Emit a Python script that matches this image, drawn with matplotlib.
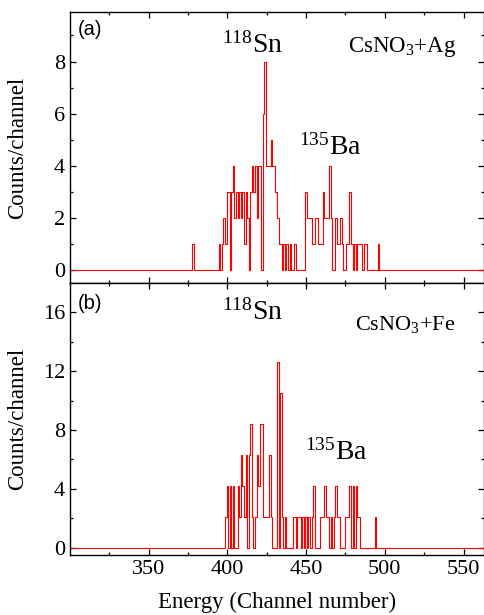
import matplotlib
matplotlib.use("Agg")
import matplotlib.pyplot as plt
import numpy as np

plt.rcParams['font.family'] = ['Liberation Serif', 'DejaVu Serif']
plt.rcParams['mathtext.fontset'] = 'custom'
plt.rcParams['mathtext.rm'] = 'Liberation Serif'
plt.rcParams['mathtext.it'] = 'Liberation Serif:italic'

# ---------------- data ----------------
# panel (a): CsNO3+Ag, counts per channel starting at channel 376
top_start = 376
top_counts = [0, 0, 1, 0, 0, 0, 0, 0, 0, 0, 0, 0, 0, 0, 0, 0, 0, 0,   # 376-393
              0, 1, 0, 1, 2, 1, 3, 3, 0, 3,                           # 394-403
              4, 2, 3, 2, 3, 2, 3, 1, 3, 2,                           # 404-413
              0, 3, 4, 3, 4, 2, 4, 4, 0, 6,                           # 414-423
              8, 4, 4, 4, 5, 4, 4, 3, 2, 1,                           # 424-433
              1, 0, 1, 0, 1, 0, 1, 0, 0, 1,                           # 434-443
              0, 0, 0, 0, 0, 0, 3, 2, 2, 2,                           # 444-453
              1, 1, 2, 2, 1, 1, 1, 3, 2, 2,                           # 454-463
              2, 4, 2, 0, 0, 2, 1, 1, 2, 1,                           # 464-473
              0, 0, 1, 1, 3, 1, 0, 1, 0, 1,                           # 474-483
              1, 1, 0, 1, 1, 0, 0, 0, 0, 0,                           # 484-493
              0, 0, 1, 0, 0]                                          # 494-498

# panel (b): CsNO3+Fe, normalised counts per channel starting at channel 396
bot_start = 396
bot_counts = [0, 0, 0, 2.11, 4.22, 0, 4.22, 0, 4.22, 0,               # 396-405
              0, 4.22, 2.11, 6.33, 4.22, 2.11, 6.33, 0, 6.33, 8.44,   # 406-415
              2.11, 0, 2.11, 6.33, 4.22, 8.44, 8.44, 2.11, 2.11, 2.11, # 416-425
              2.11, 6.33, 2.11, 0, 0, 0, 12.66, 0, 10.55, 2.11,       # 426-435
              0, 2.11, 0, 0, 0, 0, 2.11, 2.11, 0, 2.11,               # 436-445
              2.11, 0, 2.11, 0, 2.11, 0, 2.11, 0, 2.11, 4.22,         # 446-455
              0, 0, 0, 2.11, 2.11, 2.11, 4.22, 2.11, 2.11, 0,         # 456-465
              2.11, 0, 2.11, 4.22, 2.11, 2.11, 0, 0, 0, 2.11,         # 466-475
              2.11, 2.11, 4.22, 0, 4.22, 0, 4.22, 2.11, 2.11, 0,      # 476-485
              0, 0, 0, 0, 0, 0, 0, 0, 2.11, 0, 0]                     # 486-496

x_min, x_max = 300, 563
x_ticks = [350, 400, 450, 500, 550]
top_yticks = [0, 2, 4, 6, 8]
bot_yticks = [0, 4, 8, 12, 16]


def full_series(start, counts):
    ch = np.arange(x_min, x_max + 1)
    y = np.zeros_like(ch, dtype=float)
    idx = np.arange(len(counts)) + (start - x_min)
    y[idx] = counts
    return ch, y


fig = plt.figure(figsize=(4.84, 6.15), dpi=100)
L, R = 70 / 484, 1.0
ax1 = fig.add_axes([L, 1 - 283 / 615, R - L, (283 - 12) / 615])
ax2 = fig.add_axes([L, 1 - 555 / 615, R - L, (555 - 283) / 615], sharex=ax1)

for ax, (start, counts) in ((ax1, (top_start, top_counts)), (ax2, (bot_start, bot_counts))):
    ch, y = full_series(start, counts)
    ax.step(ch, y, where='mid', color='#ff0000', lw=0.8)
    ax.set_xlim(x_min, x_max)
    ax.set_xticks(x_ticks)
    ax.set_xticks(np.arange(325, 563, 50), minor=True)
    ax.tick_params(which='both', direction='in', top=True, right=True, width=0.9,
                   labelsize=16)
    ax.tick_params(which='major', length=4.5)
    ax.tick_params(which='minor', length=2.5)
    for s in ax.spines.values():
        s.set_linewidth(1.0)
    ax.set_ylabel('Counts/channel', fontsize=16.5)
    ax.yaxis.set_label_coords(-0.10, 0.5)

ax1.set_ylim(-0.5, 9.9)
ax1.set_yticks(top_yticks)
ax1.set_yticks([1, 3, 5, 7, 9], minor=True)
ax1.tick_params(labelbottom=False)

ax2.set_ylim(-0.5, 18)
ax2.set_yticks(bot_yticks)
ax2.set_yticks([2, 6, 10, 14], minor=True)
ax2.set_xlabel('Energy (Channel number)', fontsize=16.5)
ax2.xaxis.set_label_coords(0.5, -0.135)

sans = ['Liberation Sans', 'DejaVu Sans']
ax1.text(0.019, 0.934, '(a)', transform=ax1.transAxes, fontsize=14.5, family=sans,
         va='center', ha='left')
ax2.text(0.019, 0.923, '(b)', transform=ax2.transAxes, fontsize=14.5, family=sans,
         va='center', ha='left')

ax1.text(0.367, 0.849, r'$^{118}$Sn', transform=ax1.transAxes, fontsize=20,
         va='baseline', ha='left')
ax1.text(0.671, 0.852, r'CsNO$_3$+Ag', transform=ax1.transAxes, fontsize=16.5,
         va='baseline', ha='left')
ax1.text(0.553, 0.472, r'$^{135}$Ba', transform=ax1.transAxes, fontsize=20,
         va='baseline', ha='left')

ax2.text(0.367, 0.864, r'$^{118}$Sn', transform=ax2.transAxes, fontsize=20,
         va='baseline', ha='left')
ax2.text(0.688, 0.827, r'CsNO$_3$+Fe', transform=ax2.transAxes, fontsize=16,
         va='baseline', ha='left')
ax2.text(0.568, 0.349, r'$^{135}$Ba', transform=ax2.transAxes, fontsize=20,
         va='baseline', ha='left')

fig.savefig('out.png', dpi=100)
